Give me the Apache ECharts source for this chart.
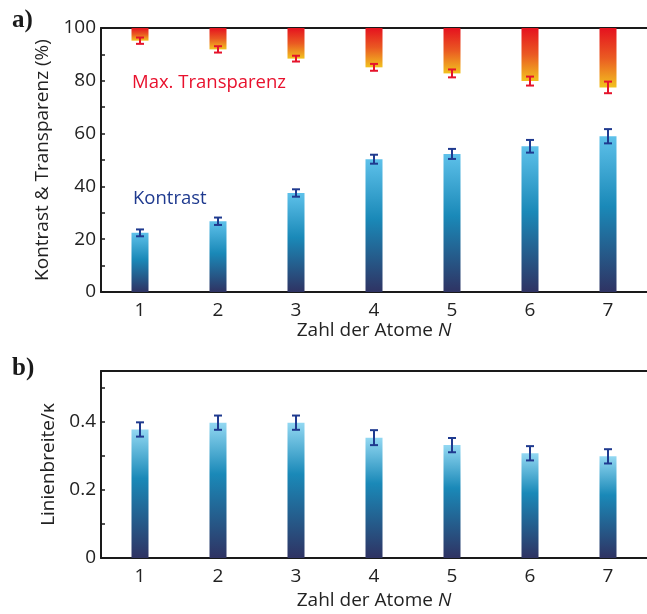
<!DOCTYPE html>
<html>
<head>
<meta charset="utf-8">
<script src="https://cdn.jsdelivr.net/npm/echarts@6/dist/echarts.min.js"></script>
<style>
  html, body { margin: 0; padding: 0; background: #fff; }
  #chart { width: 647px; height: 614px; }
</style>
</head>
<body>
<div id="chart"></div>
<script>
// Number of atoms N
const atoms = ['1', '2', '3', '4', '5', '6', '7'];

// Panel a: contrast (%) with uncertainty
const contrast = [22.4, 26.8, 37.5, 50.3, 52.3, 55.2, 59.0];
const contrastErr = [1.3, 1.4, 1.4, 1.7, 1.9, 2.4, 2.7];

// Panel a: maximum transparency (%) with uncertainty
const transparency = [95.2, 91.9, 88.4, 85.1, 82.8, 79.9, 77.5];
const transparencyErr = [1.2, 1.2, 1.1, 1.3, 1.5, 1.7, 2.2];

// Panel b: linewidth in units of kappa
const linewidth = [0.378, 0.398, 0.398, 0.354, 0.332, 0.308, 0.299];
const linewidthErr = [0.021, 0.021, 0.021, 0.022, 0.021, 0.021, 0.021];

const FONT = 'Open Sans';
const AXIS_COLOR = '#1a1a1a';
const TEXT_COLOR = '#222';
const BLUE_ERR = '#1f3a8f';
const RED_ERR = '#e5132b';

const chart = echarts.init(document.getElementById('chart'), null, { renderer: 'canvas' });

const blueGradA = new echarts.graphic.LinearGradient(0, 0, 0, 1, [
  { offset: 0, color: '#5ec1ea' },
  { offset: 0.45, color: '#1a89b8' },
  { offset: 1, color: '#2f3363' }
]);
const blueGradB = new echarts.graphic.LinearGradient(0, 0, 0, 1, [
  { offset: 0, color: '#93d8f2' },
  { offset: 0.38, color: '#1a89b8' },
  { offset: 1, color: '#2f3363' }
]);
const redGrad = new echarts.graphic.LinearGradient(0, 0, 0, 1, [
  { offset: 0, color: '#e5121f' },
  { offset: 0.5, color: '#ea5a22' },
  { offset: 1, color: '#f2c21f' }
]);

function errorBarRenderer(color) {
  return function (params, api) {
    const x = api.value(0);
    const v = api.value(1);
    const e = api.value(2);
    const hi = api.coord([x, v + e]);
    const lo = api.coord([x, v - e]);
    const half = 4;
    const style = { stroke: color, lineWidth: 2 };
    return {
      type: 'group',
      children: [
        { type: 'line', shape: { x1: hi[0], y1: hi[1], x2: lo[0], y2: lo[1] }, style },
        { type: 'line', shape: { x1: hi[0] - half, y1: hi[1], x2: hi[0] + half, y2: hi[1] }, style },
        { type: 'line', shape: { x1: lo[0] - half, y1: lo[1], x2: lo[0] + half, y2: lo[1] }, style }
      ]
    };
  };
}

// bars hanging from the 100 % line down to the transparency value
function hangingBarRenderer(params, api) {
  const x = api.value(0);
  const v = api.value(1);
  const top = api.coord([x, 100]);
  const bottom = api.coord([x, v]);
  const w = 17;
  return {
    type: 'rect',
    shape: { x: top[0] - w / 2, y: top[1], width: w, height: bottom[1] - top[1] },
    style: { fill: redGrad }
  };
}

const catAxisBase = {
  type: 'category',
  data: atoms,
  boundaryGap: true,
  axisLine: { lineStyle: { color: AXIS_COLOR, width: 2 } },
  axisTick: { inside: true, alignWithLabel: true, length: 5, lineStyle: { color: AXIS_COLOR, width: 1.5 } },
  splitLine: { show: false }
};

const xName = {
  name: '{t|Zahl der Atome }{i|N}',
  nameLocation: 'middle',
  nameTextStyle: {
    rich: {
      t: { fontFamily: FONT, fontSize: 19, color: TEXT_COLOR },
      i: { fontFamily: FONT, fontSize: 19, fontStyle: 'italic', color: TEXT_COLOR }
    }
  }
};

const tickLabel = { fontFamily: FONT, fontSize: 19, color: TEXT_COLOR };

const valueAxisBase = {
  type: 'value',
  nameLocation: 'middle',
  nameRotate: 90,
  nameTextStyle: { fontFamily: FONT, fontSize: 19, color: TEXT_COLOR },
  axisLine: { show: true, lineStyle: { color: AXIS_COLOR, width: 2 } },
  axisTick: { show: true, inside: true, length: 4, lineStyle: { color: AXIS_COLOR, width: 1.5 } },
  splitLine: { show: false }
};

const option = {
  animation: false,
  backgroundColor: '#fff',
  textStyle: { fontFamily: FONT },
  grid: [
    { left: 101, right: -6, top: 28, height: 264 },
    { left: 101, right: -6, top: 371, height: 187 }
  ],
  xAxis: [
    Object.assign({}, catAxisBase, xName, {
      gridIndex: 0, position: 'bottom', nameGap: 28,
      axisLabel: Object.assign({ margin: 9 }, tickLabel)
    }),
    Object.assign({}, catAxisBase, {
      gridIndex: 0, position: 'top', axisLabel: { show: false }
    }),
    Object.assign({}, catAxisBase, xName, {
      gridIndex: 1, position: 'bottom', nameGap: 33,
      axisLabel: Object.assign({ margin: 9 }, tickLabel)
    }),
    Object.assign({}, catAxisBase, {
      gridIndex: 1, position: 'top', axisLabel: { show: false }
    })
  ],
  yAxis: [
    Object.assign({}, valueAxisBase, {
      gridIndex: 0, min: 0, max: 100, interval: 10,
      name: 'Kontrast & Transparenz (%)', nameGap: 38,
      axisLabel: Object.assign({
        margin: 5,
        formatter: v => (v % 20 === 0 ? String(v) : '')
      }, tickLabel)
    }),
    Object.assign({}, valueAxisBase, {
      gridIndex: 1, min: 0, max: 0.55, interval: 0.1,
      name: 'Linienbreite/\u03ba', nameGap: 38,
      axisLabel: Object.assign({
        margin: 5, showMaxLabel: false,
        formatter: v => {
          const k = Math.round(v * 10);
          if (k % 2 !== 0) return '';
          return k === 0 ? '0' : (k / 10).toFixed(1);
        }
      }, tickLabel)
    })
  ],
  graphic: [
    { type: 'text', left: 12, top: 8, style: { text: 'a)', font: 'bold 25px "Liberation Serif"', fill: '#1a1a1a' } },
    { type: 'text', left: 12, top: 356, style: { text: 'b)', font: 'bold 25px "Liberation Serif"', fill: '#1a1a1a' } },
    { type: 'text', left: 132, top: 73, style: { text: 'Max. Transparenz', font: '18.5px "Open Sans"', fill: '#e8112d' } },
    { type: 'text', left: 133, top: 189, style: { text: 'Kontrast', font: '18.5px "Open Sans"', fill: '#1f3a8f' } }
  ],
  series: [
    {
      type: 'bar', xAxisIndex: 0, yAxisIndex: 0, barWidth: 17,
      data: contrast,
      itemStyle: { color: blueGradA }
    },
    {
      type: 'custom', xAxisIndex: 0, yAxisIndex: 0,
      renderItem: hangingBarRenderer,
      data: transparency.map((v, i) => [i, v])
    },
    {
      type: 'custom', xAxisIndex: 0, yAxisIndex: 0, z: 5,
      renderItem: errorBarRenderer(BLUE_ERR),
      data: contrast.map((v, i) => [i, v, contrastErr[i]])
    },
    {
      type: 'custom', xAxisIndex: 0, yAxisIndex: 0, z: 5,
      renderItem: errorBarRenderer(RED_ERR),
      data: transparency.map((v, i) => [i, v, transparencyErr[i]])
    },
    {
      type: 'bar', xAxisIndex: 2, yAxisIndex: 1, barWidth: 17,
      data: linewidth,
      itemStyle: { color: blueGradB }
    },
    {
      type: 'custom', xAxisIndex: 2, yAxisIndex: 1, z: 5,
      renderItem: errorBarRenderer(BLUE_ERR),
      data: linewidth.map((v, i) => [i, v, linewidthErr[i]])
    }
  ]
};

chart.setOption(option);
</script>
</body>
</html>
